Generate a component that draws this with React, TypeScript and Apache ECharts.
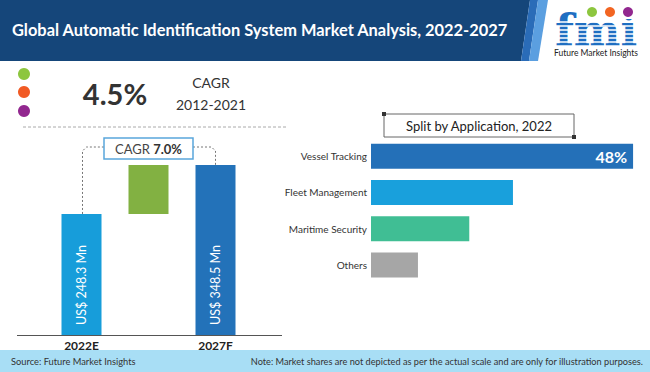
import React, { useEffect, useRef } from "react";
import * as echarts from "echarts";

const years = ["2022E", "", "2027F"];
const marketValues = [248.3, 348.5];
const valueLabels = ["US$ 248.3 Mn", "", "US$ 348.5 Mn"];
const cagrHistoric = "4.5%";
const cagrHistoricPeriod = "2012-2021";
const cagrForecast = "7.0%";

const applications = ["Vessel Tracking", "Fleet Management", "Maritime Security", "Others"];
const shares = [48, 26, 18, 8.6];
const shareColors = ["#2470b8", "#19a0dc", "#40be94", "#a6a6a6"];
const yearColors = ["#179dda", "#82b142", "#2372b9"];

const FONT = "Lato, 'Open Sans', sans-serif";

export default function App() {
  const ref = useRef<HTMLDivElement>(null);
  useEffect(() => {
    if (!ref.current) return;
    const chart = echarts.init(ref.current, undefined, { renderer: "svg" });
    const growth = +(marketValues[1] - marketValues[0]).toFixed(1);
    const baseData = [0, marketValues[0], 0];
    const topData = [marketValues[0], growth, marketValues[1]];

    chart.setOption({
      animation: false,
      backgroundColor: "#ffffff",
      textStyle: { fontFamily: FONT },
      grid: [
        { left: 48, width: 201, top: 140, bottom: 37 },
        { left: 371, right: 6, top: 138, bottom: 89 },
      ],
      xAxis: [
        {
          gridIndex: 0,
          type: "category",
          data: years,
          axisLine: { show: false },
          axisTick: { show: false },
          axisLabel: { fontFamily: FONT, fontWeight: "bold", fontSize: 12, color: "#222", margin: 4 },
        },
        {
          gridIndex: 1,
          type: "value",
          min: 0,
          max: 50,
          show: false,
        },
      ],
      yAxis: [
        { gridIndex: 0, type: "value", min: 0, max: 400, show: false },
        {
          gridIndex: 1,
          type: "category",
          data: applications,
          inverse: true,
          axisLine: { show: false },
          axisTick: { show: false },
          axisLabel: { fontFamily: FONT, fontSize: 10, color: "#333", margin: 4 },
        },
      ],
      series: [
        {
          type: "bar",
          xAxisIndex: 0,
          yAxisIndex: 0,
          stack: "w",
          data: baseData,
          barWidth: 40,
          itemStyle: { color: "transparent" },
          silent: true,
        },
        {
          type: "bar",
          xAxisIndex: 0,
          yAxisIndex: 0,
          stack: "w",
          barWidth: 40,
          data: topData.map((v, i) => ({ value: v, itemStyle: { color: yearColors[i] } })),
          label: {
            show: true,
            position: "insideBottom",
            rotate: 90,
            align: "left",
            verticalAlign: "middle",
            distance: 10,
            color: "#ffffff",
            fontFamily: FONT,
            fontSize: 12.5,
            formatter: (p: any) => valueLabels[p.dataIndex],
          },
        },
        {
          type: "bar",
          xAxisIndex: 1,
          yAxisIndex: 1,
          barWidth: 25,
          data: shares.map((v, i) => ({ value: v, itemStyle: { color: shareColors[i] } })),
          label: {
            show: true,
            position: "insideRight",
            distance: 6,
            color: "#ffffff",
            fontFamily: FONT,
            fontWeight: "bold",
            fontSize: 16,
            formatter: (p: any) => (p.dataIndex === 0 ? p.value + "%" : ""),
          },
        },
      ],
    });

    const p0 = chart.convertToPixel({ gridIndex: 0 }, [0, marketValues[0]]) as number[];
    const p2 = chart.convertToPixel({ gridIndex: 0 }, [2, marketValues[1]]) as number[];
    const base = chart.convertToPixel({ gridIndex: 0 }, [0, 0]) as number[];
    const connY = 147;
    const boxL = 104;
    const boxR = 193;
    const dash = { stroke: "#777", lineWidth: 1, lineDash: [2, 2], fill: null };
    const r = 4;

    const stripes: any[] = [];
    for (let y = 22; y <= 46; y += 4) {
      stripes.push({
        type: "line",
        shape: { x1: 550, y1: y, x2: 642, y2: y },
        style: { stroke: "#ffffff", lineWidth: 1.3 },
        z: 12,
      });
    }

    chart.setOption({
      graphic: [
        // header
        { type: "rect", shape: { x: 0, y: 0, width: 650, height: 61 }, style: { fill: "#ffffff" }, z: 0 },
        { type: "polygon", shape: { points: [[0, 0], [530, 0], [521, 61], [0, 61]] }, style: { fill: "#15467a" }, z: 1 },
        { type: "polygon", shape: { points: [[530, 0], [538, 0], [529, 61], [521, 61]] }, style: { fill: "#2a6cb8" }, z: 1 },
        { type: "polygon", shape: { points: [[538, 0], [548, 0], [538, 61], [529, 61]] }, style: { fill: "#5b9fe0" }, z: 1 },
        {
          type: "text",
          x: 12,
          y: 29,
          style: {
            text: "Global Automatic Identification System Market Analysis, 2022-2027",
            fill: "#ffffff",
            font: "bold 16.4px " + FONT,
            textVerticalAlign: "middle",
          },
          z: 2,
        },
        // logo
        {
          type: "text",
          x: 596,
          y: 30,
          style: {
            text: "fmi",
            fill: "#1f6fc2",
            font: "bold 44px 'DejaVu Serif', serif",
            lineHeight: 34,
            textAlign: "center",
            textVerticalAlign: "middle",
          },
          z: 10,
        },
        ...stripes,
        { type: "rect", shape: { x: 620, y: 4, width: 20, height: 15 }, style: { fill: "#ffffff" }, z: 13 },
        { type: "circle", shape: { cx: 592, cy: 12, r: 5 }, style: { fill: "#8dc63f" }, z: 14 },
        { type: "circle", shape: { cx: 610, cy: 12, r: 5 }, style: { fill: "#f26522" }, z: 14 },
        { type: "circle", shape: { cx: 628, cy: 12, r: 5 }, style: { fill: "#92278f" }, z: 14 },
        {
          type: "text",
          x: 596,
          y: 53,
          style: {
            text: "Future Market Insights",
            fill: "#222",
            font: "8.5px " + FONT,
            textAlign: "center",
            textVerticalAlign: "middle",
          },
          z: 14,
        },
        // KPI
        { type: "circle", shape: { cx: 24, cy: 74, r: 6 }, style: { fill: "#8dc63f" } },
        { type: "circle", shape: { cx: 24, cy: 92, r: 6 }, style: { fill: "#f15a24" } },
        { type: "circle", shape: { cx: 24, cy: 111, r: 6 }, style: { fill: "#92278f" } },
        {
          type: "text",
          x: 115,
          y: 93,
          style: { text: cagrHistoric, fill: "#333", font: "bold 29px " + FONT, textAlign: "center", textVerticalAlign: "middle" },
        },
        {
          type: "text",
          x: 211,
          y: 82,
          style: { text: "CAGR", fill: "#333", font: "14px " + FONT, textAlign: "center", textVerticalAlign: "middle" },
        },
        {
          type: "text",
          x: 211,
          y: 104,
          style: { text: cagrHistoricPeriod, fill: "#333", font: "14px " + FONT, textAlign: "center", textVerticalAlign: "middle" },
        },
        {
          type: "line",
          shape: { x1: 23, y1: 127, x2: 287, y2: 127 },
          style: { stroke: "#aaa", lineWidth: 1, lineDash: [3, 2] },
        },
        // connectors
        {
          type: "polyline",
          shape: { points: [[p0[0] + 1, p0[1]], [p0[0] + 1, connY + r], [p0[0] + 1 + r, connY], [boxL, connY]] },
          style: dash,
        },
        {
          type: "polyline",
          shape: { points: [[boxR, connY], [p2[0] - r, connY], [p2[0], connY + r], [p2[0], p2[1]]] },
          style: dash,
        },
        {
          type: "rect",
          shape: { x: boxL, y: 138, width: boxR - boxL, height: 21 },
          style: { fill: "#ffffff", stroke: "#5aa6dc", lineWidth: 1.5 },
        },
        {
          type: "text",
          x: (boxL + boxR) / 2,
          y: 148.5,
          style: {
            text: "{n|CAGR }{b|" + cagrForecast + "}",
            rich: {
              n: { fontFamily: FONT, fontSize: 13, fill: "#444" },
              b: { fontFamily: FONT, fontSize: 13, fontWeight: "bold", fill: "#333" },
            },
            textAlign: "center",
            textVerticalAlign: "middle",
          },
        },
        // axis line
        {
          type: "line",
          shape: { x1: 17, y1: base[1] + 0.5, x2: 282, y2: base[1] + 0.5 },
          style: { stroke: "#555", lineWidth: 1 },
        },
        // right title box
        {
          type: "rect",
          shape: { x: 384, y: 114, width: 190, height: 23 },
          style: { fill: "#ffffff", stroke: "#666", lineWidth: 1 },
        },
        { type: "rect", shape: { x: 382, y: 112, width: 4, height: 4 }, style: { fill: "#333" } },
        { type: "rect", shape: { x: 572, y: 135, width: 4, height: 4 }, style: { fill: "#333" } },
        {
          type: "text",
          x: 479,
          y: 125.5,
          style: {
            text: "Split by Application, 2022",
            fill: "#222",
            font: "13px " + FONT,
            textAlign: "center",
            textVerticalAlign: "middle",
          },
        },
        // footer
        { type: "rect", shape: { x: 0, y: 350, width: 650, height: 22 }, style: { fill: "#a8def5" } },
        {
          type: "text",
          x: 11,
          y: 361,
          style: { text: "Source: Future Market Insights", fill: "#333", font: "9.3px " + FONT, textVerticalAlign: "middle" },
        },
        {
          type: "text",
          x: 643,
          y: 361,
          style: {
            text: "Note: Market shares are not depicted as per the actual scale and are only for illustration purposes.",
            fill: "#333",
            font: "9.2px " + FONT,
            textAlign: "right",
            textVerticalAlign: "middle",
          },
        },
      ],
    });

    return () => chart.dispose();
  }, []);

  return <div ref={ref} style={{ width: 650, height: 372, position: "absolute", left: 0, top: 0 }} />;
}
